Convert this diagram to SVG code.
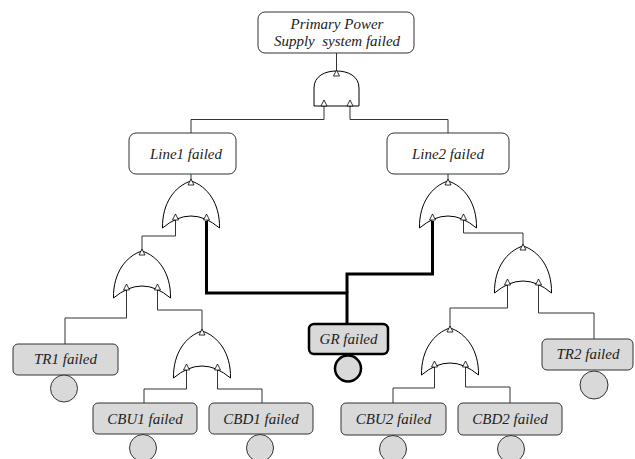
<svg xmlns="http://www.w3.org/2000/svg" xmlns:xlink="http://www.w3.org/1999/xlink" width="635" height="459" viewBox="0 0 635 459">
<style>
.box{fill:#fff;stroke:#333;stroke-width:1}
.ev{fill:#d9d9d9;stroke:#333;stroke-width:1}
.evt{fill:#d9d9d9;stroke:#000;stroke-width:2.5}
.gate{fill:#fff;stroke:#000;stroke-width:1}
.ln{fill:none;stroke:#333;stroke-width:1}
.thk{fill:none;stroke:#000;stroke-width:3}
.t{font-family:"Liberation Serif","DejaVu Serif",serif;font-style:italic;font-size:15px;fill:#222;text-anchor:middle}
</style>
<defs>
<path id="or" class="gate" d="M-28.5,47 C-29,22 -16,5 0,0 C16,5 29,22 28.5,47 Q0,23 -28.5,47 Z"/>
<path id="tri" d="M0,-1 L3,5 L-3,5 Z" fill="#fff" stroke="#000" stroke-width="0.8"/>
</defs>
<g id="connectors">
<path class="ln" d="M336.5,53 V71"/>
<path class="ln" d="M324,106 V119.5 H191 V133"/>
<path class="ln" d="M350,106 V119.5 H448 V133"/>
<path class="ln" d="M191,174 V181"/>
<path class="ln" d="M448,174 V181"/>
<path class="ln" d="M175.5,219.5 V236 H142 V251"/>
<path class="ln" d="M126.5,289.5 V318 H65 V344"/>
<path class="ln" d="M157.5,289.5 V310 H202 V331"/>
<path class="ln" d="M186.5,369.5 V389 H144 V403"/>
<path class="ln" d="M217.5,369.5 V389 H262 V403"/>
<path class="ln" d="M463.5,219.5 V233 H523 V246"/>
<path class="ln" d="M507.5,284.5 V308 H450 V328"/>
<path class="ln" d="M538.5,284.5 V313 H594 V339"/>
<path class="ln" d="M434.5,366.5 V388 H393 V403"/>
<path class="ln" d="M465.5,366.5 V387 H510 V403"/>
<path class="thk" d="M206.5,221 V293 H347 V324"/>
<path class="thk" d="M432.5,221 V274 H347 V293"/>
</g>
<g id="top">
<rect class="box" x="258" y="12" width="156" height="41" rx="7"/>
<text class="t" x="337" y="29">Primary Power</text>
<text class="t" x="337" y="46" xml:space="preserve">Supply  system failed</text>
</g>
<g id="and1">
<path class="gate" d="M314,106 L314,88 C314,76 325,71 336.5,71 C348,71 359,76 359,88 L359,106 Z"/>
<use xlink:href="#tri" x="336.5" y="71"/>
<use xlink:href="#tri" x="324" y="101"/>
<use xlink:href="#tri" x="350" y="101"/>
</g>
<g id="line1">
<rect class="box" x="129" y="133" width="107" height="41" rx="7"/>
<text class="t" x="186" y="159">Line1 failed</text>
</g>
<g id="line2">
<rect class="box" x="387" y="133" width="122" height="41" rx="7"/>
<text class="t" x="448" y="159">Line2 failed</text>
</g>
<g id="or1"><use xlink:href="#or" x="191" y="181"/><use xlink:href="#tri" x="191" y="180"/><use xlink:href="#tri" x="175.5" y="215"/><use xlink:href="#tri" x="206.5" y="215"/></g>
<g id="or2"><use xlink:href="#or" x="142" y="251"/><use xlink:href="#tri" x="142" y="250"/><use xlink:href="#tri" x="126.5" y="285"/><use xlink:href="#tri" x="157.5" y="285"/></g>
<g id="or3"><use xlink:href="#or" x="448" y="181"/><use xlink:href="#tri" x="448" y="180"/><use xlink:href="#tri" x="432.5" y="215"/><use xlink:href="#tri" x="463.5" y="215"/></g>
<g id="or4"><use xlink:href="#or" x="523" y="246"/><use xlink:href="#tri" x="523" y="245"/><use xlink:href="#tri" x="507.5" y="280"/><use xlink:href="#tri" x="538.5" y="280"/></g>
<g id="or5"><use xlink:href="#or" x="450" y="328"/><use xlink:href="#tri" x="450" y="327"/><use xlink:href="#tri" x="434.5" y="362"/><use xlink:href="#tri" x="465.5" y="362"/></g>
<g id="or6"><use xlink:href="#or" x="202" y="331"/><use xlink:href="#tri" x="202" y="330"/><use xlink:href="#tri" x="186.5" y="365"/><use xlink:href="#tri" x="217.5" y="365"/></g>
<g id="tr1">
<rect class="ev" x="13" y="344" width="105" height="31" rx="5"/>
<text class="t" x="65.5" y="364">TR1 failed</text>
<circle class="ev" cx="64" cy="388.5" r="13.5"/>
</g>
<g id="cbu1">
<rect class="ev" x="93" y="403" width="104" height="31" rx="5"/>
<text class="t" x="145" y="424">CBU1 failed</text>
<circle class="ev" cx="143" cy="448" r="13.5"/>
</g>
<g id="cbd1">
<rect class="ev" x="209" y="403" width="104" height="31" rx="5"/>
<text class="t" x="261" y="424">CBD1 failed</text>
<circle class="ev" cx="260" cy="448" r="13.5"/>
</g>
<g id="gr">
<rect class="evt" x="309" y="324" width="79" height="30" rx="5"/>
<text class="t" x="348.5" y="344">GR failed</text>
<circle class="evt" cx="348" cy="368.5" r="13"/>
</g>
<g id="cbu2">
<rect class="ev" x="341" y="403" width="105" height="32" rx="5"/>
<text class="t" x="393.5" y="424">CBU2 failed</text>
<circle class="ev" cx="393" cy="449" r="13.5"/>
</g>
<g id="cbd2">
<rect class="ev" x="458" y="403" width="104" height="32" rx="5"/>
<text class="t" x="510" y="424">CBD2 failed</text>
<circle class="ev" cx="511" cy="449" r="13.5"/>
</g>
<g id="tr2">
<rect class="ev" x="542" y="339" width="91" height="31" rx="5"/>
<text class="t" x="588" y="359">TR2 failed</text>
<circle class="ev" cx="594" cy="385" r="14"/>
</g>
</svg>
